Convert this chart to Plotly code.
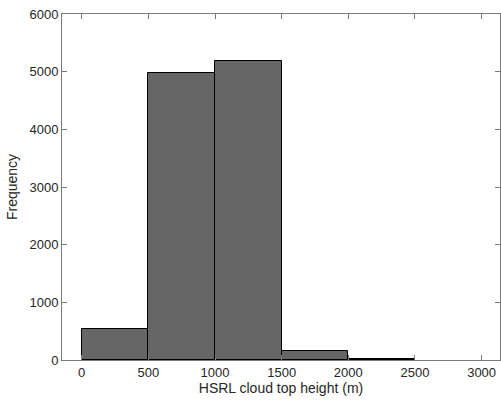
import plotly.graph_objects as go

bin_edges = [0, 500, 1000, 1500, 2000, 2500]
counts = [545, 4975, 5185, 148, 15]
x_ticks = [0, 500, 1000, 1500, 2000, 2500, 3000]
y_ticks = [0, 1000, 2000, 3000, 4000, 5000, 6000]

centers = [(a + b) / 2 for a, b in zip(bin_edges[:-1], bin_edges[1:])]
widths = [b - a for a, b in zip(bin_edges[:-1], bin_edges[1:])]

fig = go.Figure(go.Bar(
    x=centers, y=counts, width=widths,
    marker=dict(color="#666666", line=dict(color="#000000", width=1)),
))

axis_common = dict(
    showline=True, linecolor="#7a7a7a", linewidth=1, mirror="ticks",
    ticks="inside", ticklen=5, tickcolor="#7a7a7a",
    showgrid=False, zeroline=False, automargin=False,
    tickfont=dict(family="Liberation Sans, Arial", size=13, color="#262626"),
)

fig.update_layout(
    width=501, height=410,
    margin=dict(l=62, r=1, t=14, b=50),
    plot_bgcolor="white", paper_bgcolor="white",
    bargap=0, showlegend=False,
    xaxis=dict(range=[-148, 3138], tickvals=x_ticks,
               ticktext=[str(v) for v in x_ticks],
               title=dict(text="HSRL cloud top height (m)", standoff=3,
                          font=dict(family="Liberation Sans, Arial", size=14, color="#262626")),
               **axis_common),
    yaxis=dict(range=[0, 6000], tickvals=y_ticks,
               ticktext=[str(v) for v in y_ticks],
               title=dict(text="Frequency", standoff=8,
                          font=dict(family="Liberation Sans, Arial", size=14, color="#262626")),
               **axis_common),
)

fig.write_html(
    "out.html",
    config={"displayModeBar": False},
    post_script="document.body.style.margin='0';document.body.style.overflow='hidden';",
)
